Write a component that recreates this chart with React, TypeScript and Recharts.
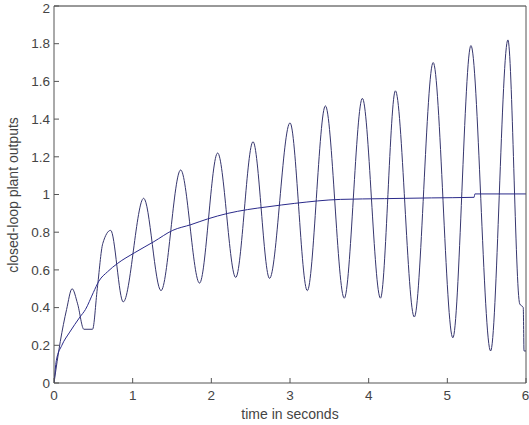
import { LineChart, Line, XAxis, YAxis } from "recharts";

// time axis (s) and output of the oscillating closed-loop response
const oscTime = [0, 0.08, 0.16, 0.23, 0.3, 0.38, 0.49, 0.55, 0.62, 0.72, 0.88, 1.14, 1.36, 1.61, 1.85, 2.08, 2.31, 2.53, 2.74, 3.0, 3.22, 3.45, 3.69, 3.92, 4.15, 4.34, 4.58, 4.82, 5.07, 5.3, 5.55, 5.77, 5.92, 5.965, 5.975, 6.0];
const oscOutput = [0, 0.22, 0.39, 0.5, 0.42, 0.285, 0.285, 0.5, 0.74, 0.81, 0.43, 0.98, 0.49, 1.13, 0.53, 1.22, 0.56, 1.28, 0.555, 1.38, 0.49, 1.47, 0.45, 1.51, 0.45, 1.55, 0.35, 1.7, 0.24, 1.79, 0.17, 1.82, 0.42, 0.4, 0.17, 0.17];

// smooth first-order-like response
const smoothTime = [0, 0.03, 0.1, 0.2, 0.33, 0.4, 0.5, 0.57, 0.68, 0.81, 1.02, 1.27, 1.51, 1.74, 1.95, 2.21, 2.46, 2.72, 3.06, 3.64, 4.2, 4.8, 5.34, 5.35, 6.0];
const smoothOutput = [0, 0.12, 0.2, 0.27, 0.35, 0.39, 0.48, 0.54, 0.59, 0.635, 0.69, 0.75, 0.81, 0.84, 0.87, 0.9, 0.92, 0.935, 0.953, 0.974, 0.978, 0.982, 0.985, 1.003, 1.003];

const xTicks = [0, 1, 2, 3, 4, 5, 6];
const yTicks = [0, 0.2, 0.4, 0.6, 0.8, 1, 1.2, 1.4, 1.6, 1.8, 2];

const oscData = oscTime.map((t, i) => ({ t, y: oscOutput[i] }));
const smoothData = smoothTime.map((t, i) => ({ t, y: smoothOutput[i] }));

const axisColor = "#555";
const font = "'Liberation Sans', Arial, sans-serif";
const tickStyle = { fontSize: 13.5, fill: "#444", fontFamily: font };

export default function App() {
  return (
    <div style={{ position: "absolute", left: 0, top: 0, width: 529, height: 425, background: "#fff" }}>
      <LineChart width={529} height={425} data={oscData} margin={{ top: 5, right: 2, bottom: 0, left: 0 }}>
        <XAxis
          xAxisId="b"
          dataKey="t"
          type="number"
          domain={[0, 6]}
          ticks={xTicks}
          height={42}
          tickSize={-5}
          tickMargin={12}
          stroke={axisColor}
          tick={tickStyle}
          allowDataOverflow
          label={{
            content: () => (
              <text x={290} y={419} textAnchor="middle" fontSize={14} fill="#444" fontFamily={font}>
                time in seconds
              </text>
            ),
          }}
        />
        <XAxis
          xAxisId="t"
          orientation="top"
          dataKey="t"
          type="number"
          domain={[0, 6]}
          ticks={xTicks}
          height={1}
          tickSize={-5}
          tick={false}
          stroke="#333"
          allowDataOverflow
        />
        <YAxis
          yAxisId="l"
          type="number"
          domain={[0, 2]}
          ticks={yTicks}
          width={54}
          tickSize={-5}
          tickMargin={9}
          stroke={axisColor}
          tick={tickStyle}
          allowDataOverflow
          label={{
            content: () => (
              <text
                transform="translate(14,195) rotate(-90)"
                textAnchor="middle"
                dominantBaseline="middle"
                fontSize={14}
                fill="#444"
                fontFamily={font}
              >
                closed-loop plant outputs
              </text>
            ),
          }}
        />
        <YAxis
          yAxisId="r"
          orientation="right"
          type="number"
          domain={[0, 2]}
          ticks={yTicks}
          width={1}
          tickSize={-5}
          tick={false}
          stroke={axisColor}
          allowDataOverflow
        />
        <Line
          xAxisId="b"
          yAxisId="l"
          data={oscData}
          dataKey="y"
          type="monotone"
          stroke="#36366e"
          strokeWidth={1}
          dot={false}
          isAnimationActive={false}
        />
        <Line
          xAxisId="t"
          yAxisId="r"
          data={smoothData}
          dataKey="y"
          type="monotone"
          stroke="#2a2a8a"
          strokeWidth={1}
          dot={false}
          isAnimationActive={false}
        />
      </LineChart>
    </div>
  );
}
